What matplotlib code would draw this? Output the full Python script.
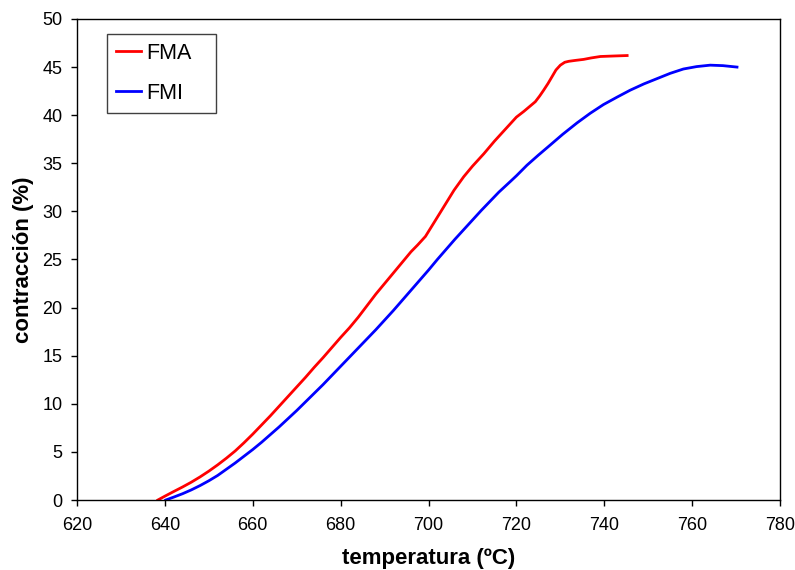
import matplotlib
matplotlib.use("Agg")
import matplotlib.pyplot as plt

plt.rcParams['font.family'] = ['Liberation Sans', 'DejaVu Sans']

fma_t = [638.4, 640, 642, 644, 646, 648, 650, 652, 654, 656, 658, 660, 662, 664, 666, 668,
         670, 672, 674, 676, 678, 680, 682, 684, 686, 688, 690, 692, 694, 696, 697.5, 699.3,
         701.2, 703.5, 705.8, 708, 710, 712.6, 715, 717, 718.6, 720, 721.7, 723, 724.3, 725.3,
         726.2, 727.2, 728.1, 729, 730, 731, 731.9, 733.5, 735.3, 737, 739.1, 742, 745.2]
fma_v = [0.0, 0.4, 0.88, 1.35, 1.85, 2.4, 3.0, 3.65, 4.35, 5.1, 5.95, 6.85, 7.8, 8.75, 9.75, 10.75,
         11.75, 12.75, 13.8, 14.8, 15.85, 16.9, 17.9, 19.0, 20.2, 21.4, 22.5, 23.6, 24.7, 25.8, 26.5, 27.4,
         28.8, 30.5, 32.2, 33.6, 34.7, 36.0, 37.3, 38.3, 39.1, 39.8, 40.4, 40.9, 41.4, 42.0,
         42.6, 43.3, 44.0, 44.7, 45.2, 45.5, 45.6, 45.7, 45.8, 45.95, 46.1, 46.15, 46.2]

fmi_t = [640.2, 642, 644, 646, 648, 650, 652, 654, 656, 658, 660, 662, 664, 666, 668, 670,
         672, 674, 676, 678, 680, 682, 684, 686, 688, 690, 692, 694, 696, 698, 700, 702,
         704, 706, 708, 710, 712, 714, 716, 718.6, 720, 722.4, 725, 727.7, 730.5, 733.8,
         736.8, 739.8, 743, 745.9, 749, 752, 755, 758, 761, 764.1, 767, 770.2]
fmi_v = [0.0, 0.3, 0.65, 1.05, 1.5, 2.0, 2.55, 3.2, 3.85, 4.55, 5.25, 6.0, 6.8, 7.6, 8.45, 9.3,
         10.2, 11.1, 12.0, 12.95, 13.9, 14.85, 15.8, 16.75, 17.7, 18.7, 19.7, 20.75, 21.8, 22.85, 23.9, 25.0,
         26.05, 27.1, 28.1, 29.1, 30.1, 31.05, 32.0, 33.1, 33.7, 34.8, 35.85, 36.9, 38.0, 39.2,
         40.2, 41.1, 41.9, 42.6, 43.25, 43.8, 44.35, 44.8, 45.05, 45.2, 45.15, 45.0]

xticks = [620, 640, 660, 680, 700, 720, 740, 760, 780]
yticks = [0, 5, 10, 15, 20, 25, 30, 35, 40, 45, 50]

fig = plt.figure(figsize=(7.95, 5.70), dpi=100)
ax = fig.add_axes([0.0969, 0.1228, 0.8843, 0.8439])

ax.plot(fma_t, fma_v, color='#ff0000', lw=2.0, label='FMA', solid_joinstyle='round')
ax.plot(fmi_t, fmi_v, color='#0000ff', lw=2.0, label='FMI', solid_joinstyle='round')

ax.set_xlim(620, 780)
ax.set_ylim(0, 50)
ax.set_xticks(xticks)
ax.set_yticks(yticks)
ax.tick_params(direction='out', length=4.5, width=1, labelsize=13, colors='black')
ax.tick_params(axis='x', pad=8)
ax.tick_params(axis='y', pad=6)
for s in ax.spines.values():
    s.set_linewidth(1.0)
    s.set_color('black')

ax.set_xlabel('temperatura (ºC)', fontsize=16, fontweight='bold', labelpad=10)
ax.set_ylabel('contracción (%)', fontsize=16, fontweight='bold', labelpad=6)

leg = ax.legend(loc='upper left', bbox_to_anchor=(0.0427, 0.5, 0.155, 0.469), mode='expand',
                borderaxespad=0, fontsize=15.5,
                frameon=True, fancybox=False, edgecolor='#404040', framealpha=1,
                handlelength=1.16, handletextpad=0.25, labelspacing=0.88, borderpad=0.42)
leg.get_frame().set_linewidth(1.0)

fig.savefig('out.png', dpi=100)
